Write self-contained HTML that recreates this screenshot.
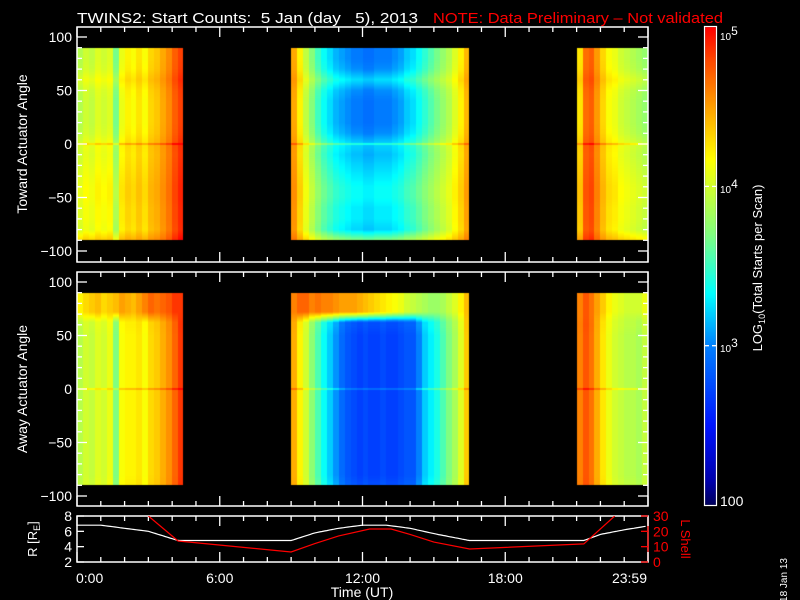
<!DOCTYPE html>
<html><head><meta charset="utf-8">
<style>
html,body{margin:0;padding:0;background:#000;}
#wrap{position:relative;width:800px;height:600px;overflow:hidden;background:#000;font-family:"Liberation Sans",sans-serif;}
canvas,svg{position:absolute;left:0;top:0;}
</style></head>
<body>
<div id="wrap">
<canvas id="cv" width="800" height="600"></canvas>
<svg id="sv" width="800" height="600" font-family="Liberation Sans, sans-serif">
<text x="77" y="23" fill="#fff" font-size="15" textLength="341" lengthAdjust="spacingAndGlyphs">TWINS2: Start Counts:&#160; 5 Jan (day &#160;&#160;5), 2013</text>
<text x="433" y="23" fill="#ff0000" font-size="15" textLength="290" lengthAdjust="spacingAndGlyphs">NOTE: Data Preliminary – Not validated</text>
<text transform="translate(27,144) rotate(-90)" text-anchor="middle" fill="#fff" font-size="14">Toward Actuator Angle</text>
<text transform="translate(27,389) rotate(-90)" text-anchor="middle" fill="#fff" font-size="14">Away Actuator Angle</text>
<text transform="translate(37,539) rotate(-90)" text-anchor="middle" fill="#fff" font-size="13">R [R<tspan font-size="9" dy="3">E</tspan><tspan dy="-3">]</tspan></text>
<text transform="translate(681,539) rotate(90)" text-anchor="middle" fill="#ff0000" font-size="13">L Shell</text>
<text x="362" y="597" text-anchor="middle" fill="#fff" font-size="14">Time (UT)</text>
<text transform="translate(762,268) rotate(-90)" text-anchor="middle" fill="#fff" font-size="13">LOG<tspan font-size="9" dy="3">10</tspan><tspan dy="-3">(Total Starts per Scan)</tspan></text>
<text transform="translate(787,580) rotate(-90)" text-anchor="middle" fill="#fff" font-size="10">18 Jan 13</text>
<g fill="#fff">
<text x="720" y="40" font-size="10">10<tspan font-size="12" dy="-5">5</tspan></text>
<text x="720" y="193" font-size="10">10<tspan font-size="12" dy="-5">4</tspan></text>
<text x="720" y="352" font-size="10">10<tspan font-size="12" dy="-5">3</tspan></text>
<text x="720" y="506" font-size="14">100</text>
</g>
<g id="axes"></g>
</svg>
</div>
<script>
// ---- data ----
const binWidth = 0.25;
const block1Start = 0.0, block2Start = 9.0, block3Start = 21.0;
const topBlock1 = [3.95,4.05,4.0,4.1,4.05,4.1,3.75,4.15,4.25,4.2,4.3,4.2,4.35,4.4,4.5,4.6,4.75,4.85];
const topBlock2 = [4.5,4.25,4.0,3.8,3.6,3.45,3.35,3.25,3.2,3.15,3.1,3.1,3.05,3.05,3.1,3.1,3.1,3.15,3.2,3.3,3.35,3.45,3.55,3.65,3.75,3.85,3.95,4.1,4.25,4.45];
const topBlock3 = [4.3,4.7,4.75,4.55,4.35,4.2,4.15,4.05,4.0,3.95,3.9,3.85];
const botBlock1 = [3.9,4.0,3.95,4.05,4.0,4.1,3.7,4.15,4.2,4.2,4.25,4.15,4.3,4.35,4.45,4.55,4.7,4.85];
const botBlock2 = [4.45,4.2,4.0,3.75,3.55,3.35,3.2,3.05,2.9,2.8,2.75,2.7,2.75,2.7,2.7,2.75,2.7,2.7,2.75,2.8,2.8,3.0,3.2,3.3,3.4,3.55,3.7,3.85,4.05,4.35];
const botBlock3 = [4.6,4.75,4.65,4.45,4.25,4.1,4.0,3.95,3.9,3.9,3.85,3.95];
const botBand1 = [4.2,4.3,4.35,4.4,4.3,4.35,4.4,4.5,4.45,4.4,4.5,4.6,4.7,4.65,4.7,4.75,4.85,4.85];
const botBand2 = [4.6,4.7,4.7,4.6,4.65,4.6,4.6,4.55,4.5,4.5,4.5,4.45,4.4,4.35,4.3,4.25,4.2,4.15,4.1,4.0,3.95,3.9,3.85,3.8,3.8,3.85,3.95,4.05,4.2,4.4];
const botBand3 = [4.6,4.75,4.65,4.5,4.35,4.2,4.1,4.05,4.0,4.0,4.0,4.1];
const profileAngles = [-90,-80,-70,-60,-50,-40,-30,-20,-10,0,10,20,30,40,50,60,70,80,90];
const topProfile = [0.5,0.1,0.15,0.15,0.2,0.2,0.15,0.1,0.05,0.1,-0.05,-0.1,-0.1,-0.1,-0.05,0.12,-0.05,-0.1,-0.1];
const botProfile = [0.05,0,0,0,0,0,0,0,0,0,0,0,0,0,0,0.05,0,0,0];
const orbitHours = [0,1,2,3,4.25,9,10,11,12,13,14,15,16.5,21.3,22,23,24];
const orbitR = [6.8,6.8,6.4,6.0,4.8,4.8,5.8,6.4,6.8,6.8,6.4,5.7,4.8,4.8,5.6,6.2,6.7];
const lshellHours = [3.0,4.25,9,10,11,12.3,13.2,14,15,16.5,21.3,22.6];
const lshellVals = [30,13.7,6.5,12,17,21.5,21.5,18,13,8.5,11.8,30];
const angleTicks = ['100','50','0','-50','-100'];
const timeTickLabels = ['0:00','6:00','12:00','18:00','23:59'];
const rTickLabels = ['2','4','6','8'];
const lTickLabels = ['0','10','20','30'];

// ---- axes functions ----
const X0=77, X1=648;
function xT(t){return X0+t*(X1-X0)/24;}
function yTop(a){return 144-a*1.07;}
function yBot(a){return 389-a*1.07;}
function yR(r){return 562-(r-2)*(46/6);}
function yL(l){return 562-l*(46/30);}
function yCB(v){return 505-(v-2)*159.3;}

const stops=[[2.0,[0,0,90]],[2.15,[0,0,170]],[2.5,[0,20,255]],[3.0,[0,128,255]],[3.33,[0,255,255]],[3.7,[128,255,128]],[4.17,[255,255,0]],[4.5,[255,160,0]],[4.8,[255,70,0]],[5.0,[255,0,0]]];
function cmap(v){
  if(v<=stops[0][0])return 'rgb('+stops[0][1]+')';
  for(let i=1;i<stops.length;i++){if(v<=stops[i][0]){const a=stops[i-1],b=stops[i];const f=(v-a[0])/(b[0]-a[0]);
    return 'rgb('+a[1].map((c,k)=>Math.round(c+(b[1][k]-c)*f)).join(',')+')';}}
  return 'rgb(255,0,0)';
}
function interp(xs,ys,x){
  if(x<=xs[0])return ys[0];
  for(let i=1;i<xs.length;i++)if(x<=xs[i]){const f=(x-xs[i-1])/(xs[i]-xs[i-1]);return ys[i-1]+(ys[i]-ys[i-1])*f;}
  return ys[ys.length-1];
}
const cv=document.getElementById('cv');const ctx=cv.getContext('2d');
ctx.fillStyle='#000';ctx.fillRect(0,0,800,600);

function drawBlock(start,vals,band,profile,yFn,endH){
  vals.forEach((v,i)=>{
    const t0=start+i*binWidth;const t1=Math.min(t0+binWidth,endH);
    const xa=Math.round(xT(t0)),xb=Math.round(xT(t1));
    const ya=Math.round(yFn(90)),yb=Math.round(yFn(-90));
    for(let y=ya;y<yb;y++){
      const a=(yFn(0)-y-0.5)/1.07;
      const w=Math.max(0,Math.min(1,(4.5-v)/1.5));
      let val=v+interp(profileAngles,profile,a)*(0.3+w);
      if(band){const bf=Math.max(0,Math.min(1,(a-62)/10));val=val*(1-bf)+band[i]*bf;}
      if(Math.abs(a)<1.2)val+=0.2;
      ctx.fillStyle=cmap(val);ctx.fillRect(xa,y,xb-xa,1);
    }
  });
}
drawBlock(block1Start,topBlock1,null,topProfile,yTop,4.46);
drawBlock(block2Start,topBlock2,null,topProfile,yTop,16.46);
drawBlock(block3Start,topBlock3,null,topProfile,yTop,24);
drawBlock(block1Start,botBlock1,botBand1,botProfile,yBot,4.46);
drawBlock(block2Start,botBlock2,botBand2,botProfile,yBot,16.46);
drawBlock(block3Start,botBlock3,botBand3,botProfile,yBot,24);

// colorbar
for(let y=27;y<505;y++){const v=2+(505-y)/159.3;ctx.fillStyle=cmap(v);ctx.fillRect(705,y,11,1);}

// ---- SVG axes ----
const NS='http://www.w3.org/2000/svg';const g=document.getElementById('axes');
function el(tag,attrs,parent){const e=document.createElementNS(NS,tag);for(const k in attrs)e.setAttribute(k,attrs[k]);(parent||g).appendChild(e);return e;}
function line(x1,y1,x2,y2,c,name){const e=el('line',{x1,y1,x2,y2,stroke:c||'#fff','stroke-width':1.3});

return e;}
function txt(x,y,s,anchor,c,size,name){const e=el('text',{x,y,'text-anchor':anchor,fill:c||'#fff','font-size':size||14});e.textContent=s;

return e;}

const cbf=el('rect',{x:704.5,y:26.5,width:12,height:479,fill:'none',stroke:'#fff','stroke-width':1.2});


[4,3].forEach(p=>{line(705,yCB(p),709,yCB(p),'#fff','colorbar-tick');line(712,yCB(p),716,yCB(p),'#fff','colorbar-tick');});

function anglePanel(yFn,top,bottom,name){
  const r=el('rect',{x:X0,y:top,width:X1-X0,height:bottom-top,fill:'none',stroke:'#fff','stroke-width':1.5});
  
  
  for(let a=-100;a<=100;a+=10){const maj=a%50===0;const L=maj?10:5;const y=yFn(a);
    line(X0,y,X0+L,y);line(X1,y,X1-L,y);}
  angleTicks.forEach(s=>{txt(72,yFn(+s)+5,s.replace('-','−'),'end','#fff',14,'y-tick-label');});
  for(let h=0;h<=24;h++){const maj=h%6===0;const L=maj?10:5;const x=xT(h);
    line(x,bottom,x,bottom-L);line(x,top,x,top+L);}
}
anglePanel(yTop,27,262,'top-panel-frame');
anglePanel(yBot,272,506,'bottom-panel-frame');

const op=el('rect',{x:X0,y:516,width:X1-X0,height:46,fill:'none',stroke:'#fff','stroke-width':1.5});


line(X1,516,X1,562,'#ff0000','lshell-axis');
for(let h=0;h<=24;h++){const maj=h%6===0;const L=maj?10:5;const x=xT(h);line(x,562,x,562-L);line(x,516,x,516+L);}
rTickLabels.forEach(s=>{const y=yR(+s);line(X0,y,X0+7,y);txt(72,y+5,s,'end','#fff',14,'r-tick-label');});
lTickLabels.forEach(s=>{const y=yL(+s);line(X1,y,X1-7,y,'#ff0000','lshell-tick');txt(653,y+5,s,'start','#ff0000',14,'lshell-tick-label');});
[0,6,12,18,24].forEach((h,i)=>{const anch=i===0?'start':(i===4?'end':'middle');txt(i===0?76:(i===4?647:xT(h)),583,timeTickLabels[i],anch,'#fff',14,'x-tick-label');});

const cp=el('clipPath',{id:'oc'});el('rect',{x:X0,y:516,width:X1-X0,height:46},cp);
let d='';for(let t=0;t<=24;t+=0.1){d+=(t===0?'M':'L')+xT(t).toFixed(1)+','+yR(interp(orbitHours,orbitR,t)).toFixed(1);}
const rp=el('path',{d,fill:'none',stroke:'#fff','stroke-width':1.2,'clip-path':'url(#oc)'});


let d2='';lshellHours.forEach((h,i)=>{d2+=(i===0?'M':'L')+xT(h).toFixed(1)+','+yL(lshellVals[i]).toFixed(1);});
const lp=el('path',{d:d2,fill:'none',stroke:'#ff0000','stroke-width':1.2,'clip-path':'url(#oc)'});


</script>
</body></html>
